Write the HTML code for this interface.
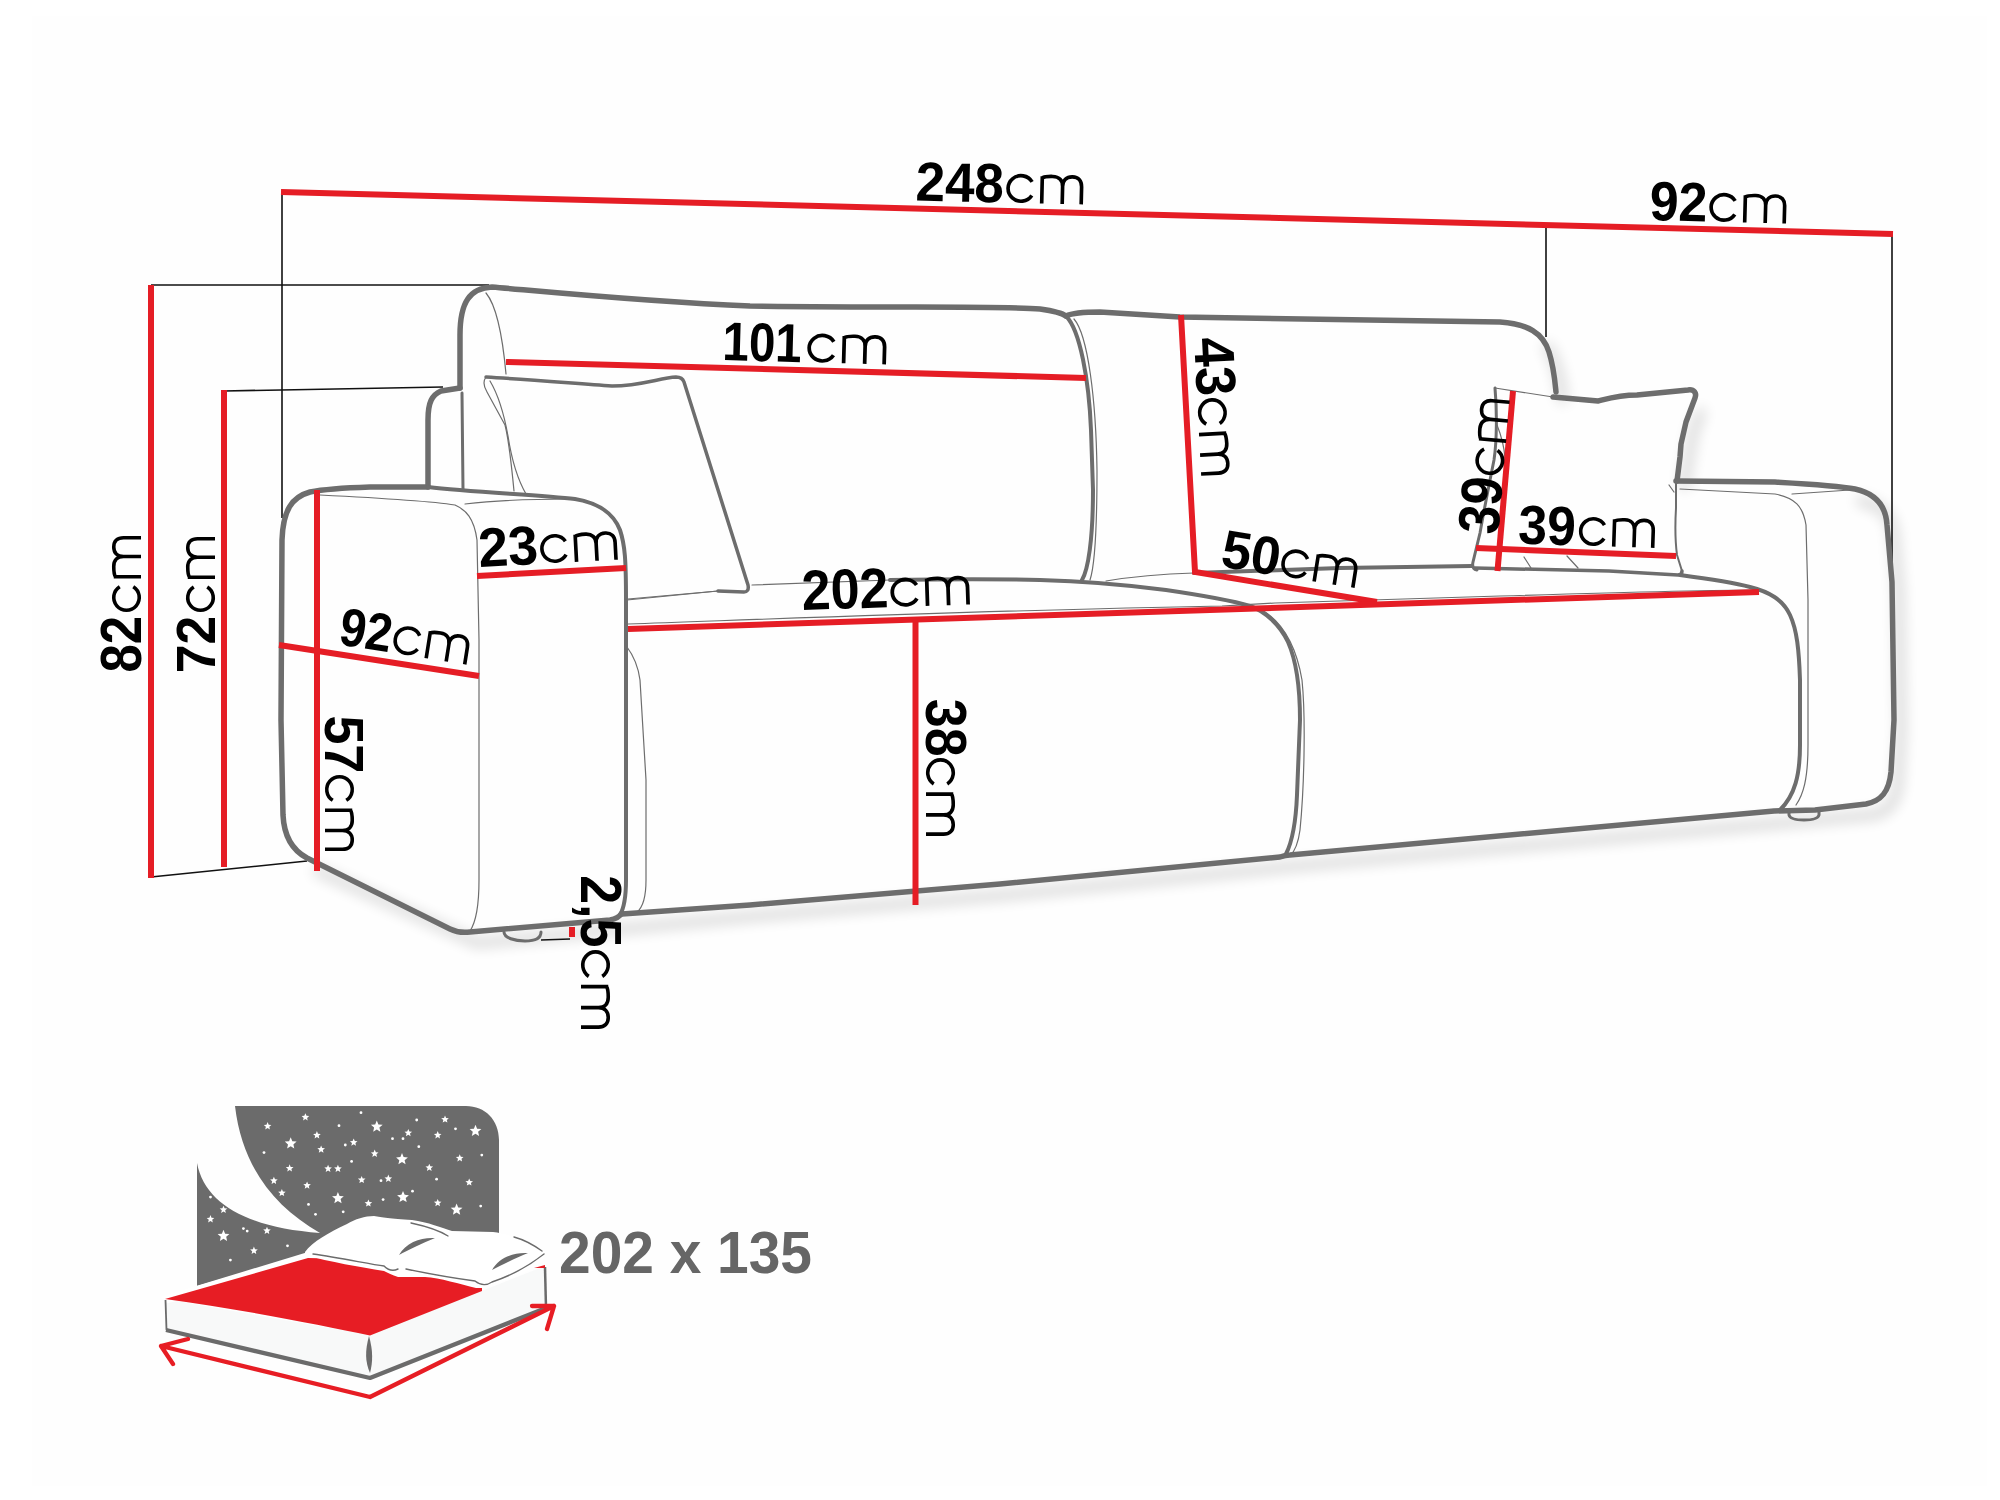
<!DOCTYPE html>
<html><head><meta charset="utf-8">
<style>
html,body{margin:0;padding:0;background:#fff;width:2000px;height:1500px;overflow:hidden}
svg{display:block}
.g{fill:none;stroke:#6d6d6d;stroke-linecap:round;stroke-linejoin:round}
.t5{stroke-width:5.5}
.t4{stroke-width:4}
.t3{stroke-width:3}
.t1{stroke-width:1.2}
.t2{stroke-width:2}
.t35{stroke-width:3.5}
.r{fill:none;stroke:#e51d25;stroke-width:6;stroke-linecap:butt}
.k{fill:none;stroke:#111;stroke-width:1.6}
.d{font-family:"Liberation Sans",sans-serif;font-weight:bold;fill:#000}
.c{font-family:"Liberation Sans",sans-serif;font-weight:normal;fill:#000}
</style></head>
<body>
<svg width="2000" height="1500" viewBox="0 0 2000 1500">
<rect x="0" y="0" width="2000" height="1500" fill="#ffffff"/>
<rect x="32" y="16" width="1955" height="1470" fill="#fefefe"/>

<defs><filter id="blur" x="-5%" y="-5%" width="110%" height="120%"><feGaussianBlur stdDeviation="7"/></filter>
<g id="cm" fill="none" stroke="#000" stroke-width="3.6" stroke-linecap="butt">
<path d="M25.3 -21.26 A12.75 12.75 0 1 0 25.3 -7.74"/>
<path d="M35.25 0 V-27.25 M35.25 -25.5 C37.5 -27.2 41 -27.25 45.5 -27.25 C52 -27.25 55.5 -23.5 55.5 -17.5 V0 M55.5 -17.5 C55.5 -23.5 59 -27.25 65 -27.25 C71 -27.25 74.25 -23.5 74.25 -17.5 V0"/>
</g></defs>
<g filter="url(#blur)" opacity="0.16" transform="translate(7,11)" fill="none" stroke="#000" stroke-width="9">
  <path d="M1538 333 C1550 348 1555 375 1556 392 M1695 398 L1686 422 L1680 457 L1677 478 M1850 489 C1878 494 1886 508 1887 525 L1892 582 L1894 720 L1891 772 C1889 792 1881 801 1866 804 L1290 855 L1000 884 L750 905 L470 932 L307 858"/>
</g>
<!-- black thin dimension helper lines -->
<g class="k">
  <path d="M282 192 L282 518"/>
  <path d="M151 285 L489 285"/>
  <path d="M224 391 L443 387"/>
  <path d="M1546 224 L1546 337"/>
  <path d="M1892 234 L1892 580"/>
  <path d="M151 877 L307 861"/>
  <path d="M541 940 L570 939"/>
</g>

<!-- SOFA thick outlines -->
<g id="sofa">
  <!-- left back cushion top + left outer -->
  <path class="g t5" d="M460 388 L460 335 C460 302 470 288 492 287 C560 293 650 302 750 306 C900 308 1000 306 1040 309 C1054 311 1062 313 1066 316"/>
  <!-- right back cushion top to right corner -->
  <path class="g t5" d="M1066 316 C1074 312 1088 312 1100 312 L1180 317 L1500 322 C1528 324 1543 333 1549 352 C1554 368 1555 382 1556 392"/>
  <!-- left back cushion right edge -->
  <path class="g t4" d="M1066 316 C1080 330 1089 380 1091 430 L1093 490 C1093 540 1088 570 1082 580"/>
  <path class="g t1" d="M1074 319 C1088 335 1096 400 1097 470 C1097 530 1095 565 1090 580"/>
  <!-- small arm-back block -->
  <path class="g t5" d="M460 388 L441 391 C432 395 428 402 428 420 L428 487"/>
  <path class="g t3" d="M462 393 L463 490"/>
  <path class="g t1" d="M486 293 C496 305 502 330 506 374"/>
  <!-- left arm outer silhouette -->
  <path class="g t5" d="M428 487 L370 487 C340 488 320 490 310 492 C292 497 283 510 282 540 L281 720 L283 815 C284 836 292 850 307 858 L450 929 C456 932 462 933 470 932 L610 920 C616 919 620 916 622 913"/>
  <!-- arm top right part -->
  <path class="g t4" d="M428 487 C470 492 540 495 575 499 C598 503 613 512 620 530 C625 545 626 560 626 600 L626 880 C626 898 624 908 620 915"/>
  <!-- arm thin lines -->
  <path class="g t1" d="M320 495 C380 498 430 501 455 505 C466 510 474 518 477 540 L479 640 L479 880 C479 905 476 922 470 931"/>
  <path class="g t1" d="M465 504 C500 500 530 499 570 499"/>
  <!-- left pillow -->
  <path class="g t35" d="M486 377 C520 379 570 383 612 386 C640 386 660 378 676 377 C681 377 683 379 684 382 L748 585 C749 590 747 592 744 592 L718 591"/>
  <path class="g t1" d="M718 591 L628 599"/>
  <path class="g t1" d="M486 377 C483 381 484 387 487 392 L505 425 C509 440 511 460 514 491"/>
  <path class="g t1" d="M490 381 C499 396 504 414 508 436 C512 462 518 480 526 494"/>
  <!-- seat back left (thin then thick) -->
  <path class="g t1" d="M752 585 L890 580"/>
  <path class="g t4" d="M890 580 C950 579 1000 579 1040 580 C1080 581 1120 584 1166 590 C1200 595 1230 600 1250 606 C1265 611 1280 625 1288 642 C1296 660 1300 690 1300 720 L1297 795 C1296 820 1293 840 1286 854"/>
  <path class="g t1" d="M1262 610 C1282 622 1296 645 1302 680 C1306 720 1304 790 1300 830 C1298 845 1294 852 1290 856"/>
  <!-- right seat cushion back edge -->
  <path class="g t1" d="M1106 581 C1130 577 1160 574 1194 573"/>
  <path class="g t4" d="M1194 573 L1340 568 L1472 566"/>
  <!-- thin seat front edge -->
  <path class="g t1" d="M628 624 C800 618 1000 610 1222 606 C1240 605 1260 604 1275 603 L1500 596 C1600 593 1700 590 1759 590"/>
  <!-- right pillow -->
  <path class="g t1" d="M1495 388 L1553 397"/>
  <path class="g t5" d="M1553 397 L1598 401 C1610 398 1620 395 1637 395 L1688 390 C1694 389 1697 393 1695 398 L1686 422 L1681 444 L1680 457 L1677 481"/>
  <path class="g t2" d="M1676 478 L1676 508 C1675 525 1675 540 1677 555 L1682 571"/>
  <path class="g t35" d="M1682 571 C1682 574 1680 575 1678 575 L1609 571 L1475 568"/>
  <path class="g t3" d="M1495 388 C1497 410 1497 440 1494 460 C1491 475 1484 510 1480 533 L1473 562 C1472 566 1473 569 1477 570"/>
  <path class="g t1" d="M1497 425 C1501 435 1504 445 1505 458"/>
  <path class="g t1" d="M1524 557 L1531 568 M1567 556 L1578 568 M1669 485 L1674 492"/>
  <!-- right arm -->
  <path class="g t5" d="M1676 481 L1775 482 C1810 484 1840 486 1855 489 C1878 494 1886 508 1887 525 L1892 582 L1894 720 L1891 772 C1889 792 1881 801 1866 804 L1815 810 L1774 811 L1290 855 C1286 855 1283 856 1280 857 L1000 884 L750 905 L622 914"/>
  <path class="g t1" d="M1680 489 L1775 494 C1795 498 1803 506 1806 525 L1808 600 L1808 745 C1808 780 1803 795 1796 805"/>
  <path class="g t1" d="M1792 494 L1850 490"/>
  <!-- right seat cushion -->
  <path class="g t4" d="M1680 575 C1710 579 1735 583 1750 587 C1770 592 1783 600 1790 615 C1797 630 1799 650 1800 680 L1800 745 C1800 775 1795 795 1780 810"/>
  <!-- left seat cushion left line -->
  <path class="g t1" d="M627 647 C633 655 638 665 640 680 L646 780 L646 880 C646 898 642 908 637 912"/>
  <path class="g t1" d="M627 600 L718 591"/>
  <!-- feet -->
  <path class="g t3" d="M504 932 C504 938 515 941 525 941 C535 941 541 939 541 932"/>
  <path class="g t3" fill="#fff" d="M1789 812 L1789 815 C1790 819 1797 820 1804 820 C1812 820 1818 819 1819 815 L1819 809"/>
</g>

<!-- RED dimension lines -->
<g class="r">
  <path d="M281 192 L1893 234"/>
  <path d="M151 285 L151 878"/>
  <path d="M224 390 L224 867"/>
  <path d="M317 490 L317 871"/>
  <path d="M506 362 L1086 378"/>
  <path d="M1181 315 L1195 572 L1377 602"/>
  <path d="M279 645 L479 676"/>
  <path d="M477 576 L626 568"/>
  <path d="M628 629 L1759 592"/>
  <path d="M915.5 620 L915.5 905"/>
  <path d="M1513 391 L1497.5 571"/>
  <path d="M1476 548 L1676 556"/>
  <path d="M572 927 L572 937"/>
</g>

<!-- LABELS -->
<g id="labels">
<g transform="translate(917,200.5) rotate(1.35)"><text class="d" font-size="55.23" transform="translate(-1.84,0) scale(0.9600,1)">248</text><use href="#cm" transform="translate(89.00,0) scale(1.0132,1.0000)"/></g>
<g transform="translate(1651,220) rotate(1.5)"><text class="d" font-size="55.23" transform="translate(-1.80,0) scale(0.9422,1)">92</text><use href="#cm" transform="translate(58.00,0) scale(1.0132,1.0000)"/></g>
<g transform="translate(725,360) rotate(1.58)"><text class="d" font-size="54.51" transform="translate(-2.99,0) scale(0.8722,1)">101</text><use href="#cm" transform="translate(82.00,0) scale(1.0395,1.0000)"/></g>
<g transform="translate(481,567) rotate(-3.07)"><text class="d" font-size="55.23" transform="translate(-1.86,0) scale(0.9735,1)">23</text><use href="#cm" transform="translate(60.00,0) scale(1.0132,1.0000)"/></g>
<g transform="translate(339,644.5) rotate(9)"><text class="d" font-size="53.78" transform="translate(-1.64,0) scale(0.8781,1)">92</text><use href="#cm" transform="translate(53.00,0) scale(1.0000,1.0000)"/></g>
<g transform="translate(804,610) rotate(-1.9)"><text class="d" font-size="56.69" transform="translate(-1.81,0) scale(0.9187,1)">202</text><use href="#cm" transform="translate(87.00,0) scale(1.0395,1.0000)"/></g>
<g transform="translate(1221.2,566.8) rotate(9)"><text class="d" font-size="53.78" transform="translate(-1.63,0) scale(0.9829,1)">50</text><use href="#cm" transform="translate(58.70,0) scale(1.0039,1.0000)"/></g>
<g transform="translate(1519,543.5) rotate(1.9)"><text class="d" font-size="55.23" transform="translate(-1.19,0) scale(0.9377,1)">39</text><use href="#cm" transform="translate(59.50,0) scale(1.0000,1.0000)"/></g>
<g transform="translate(1194,339) rotate(87)"><text class="d" font-size="56.69" transform="translate(-0.80,0) scale(0.9311,1)">43</text><use href="#cm" transform="translate(60.00,0) scale(1.0132,1.0000)"/></g>
<g transform="translate(926,700) rotate(90)"><text class="d" font-size="58.14" transform="translate(-1.19,0) scale(0.8936,1)">38</text><use href="#cm" transform="translate(58.00,0) scale(1.0263,1.0000)"/></g>
<g transform="translate(325,717) rotate(90)"><text class="d" font-size="55.23" transform="translate(-1.60,0) scale(0.9422,1)">57</text><use href="#cm" transform="translate(58.00,0) scale(1.0000,1.0000)"/></g>
<g transform="translate(581,877) rotate(90)"><text class="d" font-size="56.69" transform="translate(-1.80,0) scale(0.9168,1)">2,5</text><use href="#cm" transform="translate(73.00,0) scale(1.0395,1.0000)"/></g>
<g transform="translate(141,671) rotate(-90)"><text class="d" font-size="56.69" transform="translate(-1.62,0) scale(0.8985,1)">82</text><use href="#cm" transform="translate(59.00,0) scale(1.0000,1.0000)"/></g>
<g transform="translate(215,671) rotate(-90)"><text class="d" font-size="55.23" transform="translate(-2.21,0) scale(0.9323,1)">72</text><use href="#cm" transform="translate(59.00,0) scale(0.9868,1.0000)"/></g>
<g transform="translate(1498,534) rotate(-85)"><text class="d" font-size="58.14" transform="translate(-1.18,0) scale(0.8827,1)">39</text><use href="#cm" transform="translate(58.00,0) scale(1.0000,1.0000)"/></g>
</g>

<!-- BED ICON -->
<g id="bed">
  <path fill="#6b6b6b" d="M197 1163 C205 1205 250 1228 320 1233 C272 1205 242 1165 235 1106 L466 1106 C485 1106 499 1120 499 1140 L499 1262 L308 1254 L197 1286 Z"/>
  <path fill="#fff" d="M290.7,1137.3 L292.3,1141.3 L296.6,1141.6 L293.4,1144.4 L294.3,1148.6 L290.7,1146.3 L287.1,1148.6 L288.0,1144.4 L284.8,1141.6 L289.1,1141.3Z M376.8,1120.5 L378.4,1124.5 L382.7,1124.8 L379.4,1127.6 L380.4,1131.8 L376.8,1129.5 L373.2,1131.8 L374.1,1127.6 L370.9,1124.8 L375.2,1124.5Z M475.5,1124.7 L477.1,1128.7 L481.4,1129.0 L478.1,1131.8 L479.1,1136.0 L475.5,1133.7 L471.8,1136.0 L472.8,1131.8 L469.6,1129.0 L473.9,1128.7Z M402.0,1153.1 L403.6,1157.0 L407.9,1157.4 L404.6,1160.2 L405.6,1164.3 L402.0,1162.1 L398.4,1164.3 L399.3,1160.2 L396.1,1157.4 L400.4,1157.0Z M337.9,1191.9 L339.6,1195.9 L343.8,1196.2 L340.6,1199.0 L341.6,1203.2 L337.9,1200.9 L334.3,1203.2 L335.3,1199.0 L332.0,1196.2 L336.3,1195.9Z M403.0,1190.9 L404.7,1194.8 L408.9,1195.2 L405.7,1198.0 L406.7,1202.1 L403.0,1199.9 L399.4,1202.1 L400.4,1198.0 L397.1,1195.2 L401.4,1194.8Z M456.6,1203.5 L458.2,1207.4 L462.5,1207.8 L459.2,1210.6 L460.2,1214.7 L456.6,1212.5 L452.9,1214.7 L453.9,1210.6 L450.7,1207.8 L455.0,1207.4Z M223.5,1229.7 L225.1,1233.7 L229.4,1234.0 L226.2,1236.8 L227.1,1241.0 L223.5,1238.7 L219.9,1241.0 L220.8,1236.8 L217.6,1234.0 L221.9,1233.7Z M305.4,1113.3 L306.5,1115.8 L309.2,1116.1 L307.1,1117.9 L307.7,1120.5 L305.4,1119.1 L303.0,1120.5 L303.7,1117.9 L301.6,1116.1 L304.3,1115.8Z M267.6,1122.1 L268.7,1124.7 L271.4,1124.9 L269.3,1126.7 L269.9,1129.4 L267.6,1127.9 L265.2,1129.4 L265.9,1126.7 L263.8,1124.9 L266.5,1124.7Z M316.9,1131.1 L318.0,1133.7 L320.8,1133.9 L318.7,1135.7 L319.3,1138.4 L316.9,1136.9 L314.6,1138.4 L315.2,1135.7 L313.1,1133.9 L315.9,1133.7Z M408.3,1129.0 L409.4,1131.6 L412.1,1131.8 L410.0,1133.6 L410.6,1136.3 L408.3,1134.8 L405.9,1136.3 L406.6,1133.6 L404.5,1131.8 L407.2,1131.6Z M437.7,1131.1 L438.8,1133.7 L441.5,1133.9 L439.4,1135.7 L440.0,1138.4 L437.7,1136.9 L435.3,1138.4 L436.0,1135.7 L433.9,1133.9 L436.6,1133.7Z M445.0,1115.4 L446.1,1117.9 L448.8,1118.2 L446.8,1120.0 L447.4,1122.6 L445.0,1121.2 L442.7,1122.6 L443.3,1120.0 L441.2,1118.2 L444.0,1117.9Z M353.7,1138.5 L354.8,1141.0 L357.5,1141.3 L355.4,1143.1 L356.0,1145.7 L353.7,1144.3 L351.3,1145.7 L352.0,1143.1 L349.9,1141.3 L352.6,1141.0Z M321.1,1145.4 L322.2,1148.0 L325.0,1148.2 L322.9,1150.0 L323.5,1152.7 L321.1,1151.2 L318.8,1152.7 L319.4,1150.0 L317.3,1148.2 L320.1,1148.0Z M374.7,1149.6 L375.8,1152.2 L378.5,1152.4 L376.4,1154.2 L377.0,1156.9 L374.7,1155.4 L372.3,1156.9 L373.0,1154.2 L370.9,1152.4 L373.6,1152.2Z M459.7,1154.2 L460.8,1156.8 L463.5,1157.0 L461.5,1158.8 L462.1,1161.5 L459.7,1160.0 L457.4,1161.5 L458.0,1158.8 L455.9,1157.0 L458.7,1156.8Z M289.6,1164.3 L290.7,1166.9 L293.5,1167.1 L291.4,1168.9 L292.0,1171.6 L289.6,1170.1 L287.3,1171.6 L287.9,1168.9 L285.8,1167.1 L288.6,1166.9Z M328.1,1164.7 L329.1,1167.3 L331.9,1167.5 L329.8,1169.3 L330.4,1172.0 L328.1,1170.5 L325.7,1172.0 L326.4,1169.3 L324.3,1167.5 L327.0,1167.3Z M337.9,1164.7 L339.0,1167.3 L341.8,1167.5 L339.7,1169.3 L340.3,1172.0 L337.9,1170.5 L335.6,1172.0 L336.2,1169.3 L334.1,1167.5 L336.9,1167.3Z M429.3,1163.7 L430.4,1166.2 L433.1,1166.5 L431.0,1168.3 L431.6,1170.9 L429.3,1169.5 L426.9,1170.9 L427.6,1168.3 L425.5,1166.5 L428.2,1166.2Z M273.9,1176.7 L275.0,1179.3 L277.7,1179.5 L275.6,1181.3 L276.2,1184.0 L273.9,1182.5 L271.5,1184.0 L272.2,1181.3 L270.1,1179.5 L272.8,1179.3Z M307.1,1181.5 L308.1,1184.1 L310.9,1184.3 L308.8,1186.1 L309.4,1188.8 L307.1,1187.3 L304.7,1188.8 L305.4,1186.1 L303.3,1184.3 L306.0,1184.1Z M361.7,1175.9 L362.7,1178.4 L365.5,1178.6 L363.4,1180.4 L364.0,1183.1 L361.7,1181.7 L359.3,1183.1 L360.0,1180.4 L357.9,1178.6 L360.6,1178.4Z M388.3,1174.6 L389.4,1177.2 L392.1,1177.4 L390.1,1179.2 L390.7,1181.9 L388.3,1180.4 L386.0,1181.9 L386.6,1179.2 L384.5,1177.4 L387.3,1177.2Z M469.2,1178.4 L470.3,1180.9 L473.0,1181.2 L470.9,1183.0 L471.5,1185.6 L469.2,1184.2 L466.8,1185.6 L467.5,1183.0 L465.4,1181.2 L468.1,1180.9Z M281.9,1188.9 L282.9,1191.4 L285.7,1191.7 L283.6,1193.5 L284.2,1196.1 L281.9,1194.7 L279.5,1196.1 L280.2,1193.5 L278.1,1191.7 L280.8,1191.4Z M368.4,1199.4 L369.5,1201.9 L372.2,1202.2 L370.1,1204.0 L370.7,1206.6 L368.4,1205.2 L366.0,1206.6 L366.7,1204.0 L364.6,1202.2 L367.3,1201.9Z M437.7,1199.0 L438.8,1201.5 L441.5,1201.7 L439.4,1203.5 L440.0,1206.2 L437.7,1204.8 L435.3,1206.2 L436.0,1203.5 L433.9,1201.7 L436.6,1201.5Z M223.5,1205.7 L224.6,1208.2 L227.3,1208.5 L225.2,1210.3 L225.8,1212.9 L223.5,1211.5 L221.1,1212.9 L221.8,1210.3 L219.7,1208.5 L222.4,1208.2Z M210.5,1215.1 L211.5,1217.7 L214.3,1217.9 L212.2,1219.7 L212.8,1222.4 L210.5,1220.9 L208.1,1222.4 L208.8,1219.7 L206.7,1217.9 L209.4,1217.7Z M267.0,1226.7 L268.0,1229.2 L270.8,1229.5 L268.7,1231.3 L269.3,1233.9 L267.0,1232.5 L264.6,1233.9 L265.3,1231.3 L263.2,1229.5 L265.9,1229.2Z M253.9,1246.6 L255.0,1249.2 L257.8,1249.4 L255.7,1251.2 L256.3,1253.9 L253.9,1252.4 L251.6,1253.9 L252.2,1251.2 L250.1,1249.4 L252.9,1249.2Z"/>
<g fill="#fff"><circle cx="361.0" cy="1112.7" r="1.4"/><circle cx="339.0" cy="1125.7" r="1.4"/><circle cx="416.7" cy="1120.0" r="1.4"/><circle cx="455.5" cy="1128.8" r="1.4"/><circle cx="392.5" cy="1138.7" r="1.4"/><circle cx="403.0" cy="1138.7" r="1.4"/><circle cx="418.8" cy="1146.7" r="1.4"/><circle cx="345.3" cy="1145.0" r="1.4"/><circle cx="264.0" cy="1152.6" r="1.4"/><circle cx="351.6" cy="1161.4" r="1.4"/><circle cx="481.8" cy="1155.1" r="1.4"/><circle cx="436.6" cy="1179.2" r="1.4"/><circle cx="381.0" cy="1180.7" r="1.4"/><circle cx="412.5" cy="1191.2" r="1.4"/><circle cx="383.1" cy="1199.6" r="1.4"/><circle cx="308.5" cy="1204.4" r="1.4"/><circle cx="315.5" cy="1214.3" r="1.4"/><circle cx="343.2" cy="1211.8" r="1.4"/><circle cx="480.7" cy="1206.1" r="1.4"/><circle cx="210.5" cy="1197.1" r="1.4"/><circle cx="243.4" cy="1228.6" r="1.4"/><circle cx="247.2" cy="1231.1" r="1.4"/><circle cx="287.5" cy="1245.8" r="1.4"/><circle cx="230.4" cy="1260.1" r="1.4"/></g>
  <!-- mattress -->
  <path fill="#f8f9f9" d="M165 1299 L370 1335 L370 1378 L166 1330 Z"/>
  <path fill="#f8f9f9" d="M370 1335 L545 1266 L546 1308 L370 1378 Z"/>
  <path fill="#fff" d="M160 1297 L308 1252 L340 1252 L340 1270 L168 1303 Z"/>
  <path fill="#e71d24" d="M165 1299 L308 1258 L482 1262 L482 1291 L370 1335.5 C320 1325 240 1309 165 1299 Z"/>
  <path fill="none" stroke="#6b6b6b" stroke-width="1.8" d="M165.5 1300 L166.5 1330"/>
  <path fill="none" stroke="#6b6b6b" stroke-width="4.3" stroke-linejoin="bevel" d="M166 1330 L370 1378 L546 1308"/>
  <path fill="none" stroke="#6b6b6b" stroke-width="2.5" d="M545 1267 L546 1308"/>
  <path fill="#6b6b6b" d="M369 1336 C365 1350 365 1362 370 1373 C373 1362 373 1350 369 1336 Z"/>
  <!-- pillows -->
  <path fill="#fff" d="M305 1252 C312 1242 330 1232 347 1224 C355 1219 365 1216 374 1216 C382 1217 390 1219 412 1220 C428 1222 442 1228 452 1231 L493 1232 C510 1234 530 1243 544 1251 C546 1256 543 1261 540 1264 C530 1271 515 1278 493 1284 L484 1288 L476 1288 C460 1284 440 1278 425 1277 L398 1277 C392 1275 388 1273 384 1271 C360 1267 330 1262 305 1255 Z"/>
  <g fill="none" stroke="#6b6b6b" stroke-width="1.4" stroke-linecap="round">
    <path d="M313 1254 C340 1258 370 1264 384 1266 C388 1270 392 1272 398 1269"/>
    <path d="M411 1223 C425 1226 440 1231 448 1236"/>
    <path d="M406 1269 C430 1274 460 1279 475 1281 C480 1285 486 1286 492 1282 C510 1276 530 1265 544 1254"/>
    <path d="M514 1237 C525 1240 535 1246 542 1251"/>
  </g>
  <path fill="#6b6b6b" d="M399 1255 C406 1242 422 1237 435 1238 C423 1243 408 1250 399 1255 Z"/>
  <path fill="#6b6b6b" d="M492 1270 C499 1257 515 1252 528 1253 C516 1258 501 1265 492 1270 Z"/>
  <path fill="#e71d24" d="M534 1268 L545 1265 L545 1268 Z"/>
  <!-- arrows -->
  <path fill="none" stroke="#e71d24" stroke-width="4.3" stroke-linejoin="round" stroke-linecap="round" d="M161 1346 L370 1397 L554 1306 M188 1339 L161 1346 L173 1364 M532 1306 L554 1306 L547 1329"/>
</g>
<text x="559" y="1273" font-family="Liberation Sans" font-weight="bold" font-size="60" fill="#666" textLength="253" lengthAdjust="spacingAndGlyphs">202 x 135</text>
</svg>
</body></html>
